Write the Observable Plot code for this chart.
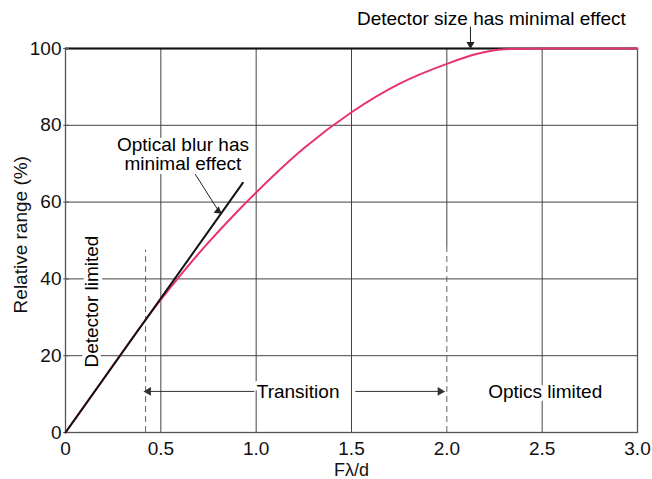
<!DOCTYPE html>
<html>
<head>
<meta charset="utf-8">
<script src="https://cdn.jsdelivr.net/npm/d3@7"></script>
<script src="https://cdn.jsdelivr.net/npm/@observablehq/plot@0.6"></script>
<style>
  html, body { margin: 0; padding: 0; background: #fff; }
</style>
</head>
<body>
<div id="chart"></div>
<script>
// ---- data ----
const xTicks = [0, 0.5, 1, 1.5, 2, 2.5, 3];
const xTickLabels = ["0", "0.5", "1.0", "1.5", "2.0", "2.5", "3.0"];
const yTicks = [0, 20, 40, 60, 80, 100];
const yTickLabels = ["0", "20", "40", "60", "80", "100"];
const gridX = [0.5, 1, 1.5, 2.5];
const gridY = [20, 40, 60, 80];
// relative range curve (pink)
const rangeX = [0, 0.2, 0.4, 0.5, 0.6, 0.75, 0.9, 1.0, 1.25, 1.5, 1.75, 2.0, 2.15, 2.3, 2.5, 3.0];
const rangeY = [0, 14, 28, 34.6, 40.8, 49.5, 57.5, 62.5, 74, 83.4, 90.8, 96, 98.5, 99.8, 100, 100];
// detector-limited asymptote (black)
const lineX = [0, 0.93];
const lineY = [0, 65];
// dashed region boundaries
const dashX = [0.42, 2.0];
const dashTop = [47.5, 48];

const curve = rangeX.map((x, i) => ({x, y: rangeY[i]}));
const line = lineX.map((x, i) => ({x, y: lineY[i]}));
const dashes = dashX.map((x, i) => ({x, top: dashTop[i]}));
const xTickData = xTicks.map((x, i) => ({x, label: xTickLabels[i]}));
const yTickData = yTicks.map((y, i) => ({y, label: yTickLabels[i]}));

const font = "Liberation Sans, Arial, Helvetica, sans-serif";
const FS = 19;
const halo = {stroke: "white", strokeWidth: 8, fill: "black"};

const chart = Plot.plot({
  width: 652,
  height: 479,
  marginLeft: 65,
  marginRight: 15,
  marginTop: 48,
  marginBottom: 47,
  style: {fontFamily: font, fontSize: FS + "px", background: "white"},
  x: {domain: [0, 3], axis: null},
  y: {domain: [0, 100], axis: null},
  marks: [
    // grid
    Plot.ruleX(gridX, {y1: 0, y2: 100, stroke: "#444", strokeWidth: 1}),
    Plot.ruleX([2.0], {y1: 48, y2: 100, stroke: "#444", strokeWidth: 1}),
    Plot.ruleY(gridY, {stroke: "#444", strokeWidth: 1}),
    Plot.ruleX(dashes, {x: "x", y1: 0, y2: "top", stroke: "#666", strokeWidth: 1, strokeDasharray: "6,4"}),
    // frame
    Plot.frame({stroke: "#555", strokeWidth: 1.3}),
    Plot.ruleY([100], {stroke: "#111", strokeWidth: 2.2}),
    // y ticks
    Plot.link(yTickData, {x1: -0.012, x2: 0.018, y1: "y", y2: "y", stroke: "#555", strokeWidth: 1}),
    // text labels with white halo (break grid)
    Plot.text(["Detector limited"], {x: 0.14, y: 34.1, rotate: -90, fontSize: FS, ...halo}),
    Plot.text(["Transition"], {x: 1.22, y: 10.7, fontSize: FS, ...halo}),
    Plot.text(["Optics limited"], {x: 2.516, y: 10.7, fontSize: FS, ...halo}),
    Plot.text(["Optical blur has\nminimal effect"], {x: 0.616, y: 72.5, fontSize: FS, lineHeight: 1.05, ...halo}),
    Plot.text(["Detector size has minimal effect"], {x: 2.234, y: 107.8, fontSize: FS, fill: "black"}),
    // transition arrows
    Plot.link([0], {x1: 0.99, x2: 0.44, y1: 10.7, y2: 10.7, stroke: "#333", strokeWidth: 1}),
    Plot.link([0], {x1: 1.52, x2: 1.96, y1: 10.7, y2: 10.7, stroke: "#333", strokeWidth: 1}),
    Plot.dot([0], {x: 0.435, y: 10.7, symbol: "triangle", r: 3.2, rotate: -90, fill: "#333", stroke: null}),
    Plot.dot([0], {x: 1.965, y: 10.7, symbol: "triangle", r: 3.2, rotate: 90, fill: "#333", stroke: null}),
    // annotation arrows
    Plot.link([0], {x1: 0.68, y1: 67.3, x2: 0.795, y2: 58.3, stroke: "#222", strokeWidth: 1}),
    Plot.dot([0], {x: 0.8, y: 57.7, symbol: "triangle", r: 3, rotate: 128, fill: "#222", stroke: null}),
    Plot.link([0], {x1: 2.124, y1: 105.7, x2: 2.124, y2: 101.6, stroke: "#222", strokeWidth: 1}),
    Plot.dot([0], {x: 2.124, y: 101.1, symbol: "triangle", r: 3, rotate: 180, fill: "#222", stroke: null}),
    // curves
    Plot.line(curve, {x: "x", y: "y", curve: "monotone-x", stroke: "#e8336b", strokeWidth: 2}),
    Plot.line(line, {x: "x", y: "y", stroke: "#111", strokeWidth: 2}),
    // tick labels
    Plot.text(xTickData, {x: "x", text: "label", frameAnchor: "bottom", dy: 16, lineAnchor: "middle", textAnchor: "middle", fontSize: FS, fill: "#111"}),
    Plot.text(yTickData, {y: "y", text: "label", frameAnchor: "left", dx: -4, textAnchor: "end", lineAnchor: "middle", fontSize: FS, fill: "#111"}),
    // axis titles
    Plot.text(["Fλ/d"], {frameAnchor: "bottom", dy: 37.5, lineAnchor: "middle", textAnchor: "middle", fontSize: 18, fill: "#111"}),
    Plot.text(["Relative range (%)"], {frameAnchor: "left", y: 51.5, dx: -45, rotate: -90, textAnchor: "middle", lineAnchor: "middle", fontSize: FS, fill: "#111"})
  ]
});
document.getElementById("chart").appendChild(chart);
</script>
</body>
</html>
